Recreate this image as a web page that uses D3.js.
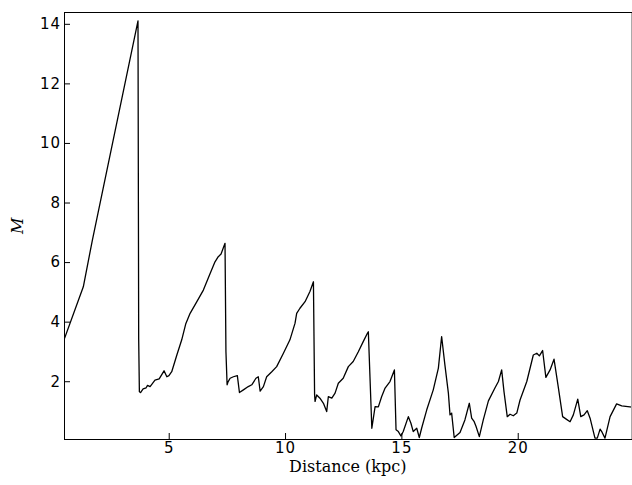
<!DOCTYPE html>
<html>
<head>
<meta charset="utf-8">
<script src="https://cdn.jsdelivr.net/npm/d3@7"></script>
<style>
  html, body { margin: 0; padding: 0; background: #fff; }
  svg { display: block; }
  .tick-label { font-family: "DejaVu Sans", sans-serif; font-size: 15px; letter-spacing: 1px; fill: #000; }
  .axis-title { font-family: "DejaVu Serif", serif; font-size: 16px; fill: #000; }
</style>
</head>
<body>
<svg id="chart" width="632" height="485"></svg>
<script>
// Distance along the line of sight (kpc)
const distance = [
  0.50, 1.33, 1.72, 3.68, 3.71, 3.74, 3.79, 3.90, 4.03, 4.09, 4.20, 4.41, 4.59, 4.80, 4.92,
  5.01, 5.13, 5.35, 5.56, 5.73, 5.92, 6.21, 6.49, 6.78, 6.99, 7.13, 7.25, 7.42, 7.46, 7.51,
  7.55, 7.64, 7.78, 7.95, 8.04, 8.21, 8.42, 8.57, 8.75, 8.85, 8.93, 9.07, 9.21, 9.43, 9.64,
  9.93, 10.21, 10.43, 10.50, 10.64, 10.86, 11.07, 11.22, 11.27, 11.29, 11.36, 11.50, 11.65, 11.79, 11.86,
  12.01, 12.15, 12.29, 12.50, 12.72, 12.93, 13.15, 13.36, 13.54, 13.58, 13.73, 13.87, 14.01, 14.15, 14.30,
  14.51, 14.70, 14.77, 14.87, 14.98, 15.08, 15.30, 15.41, 15.51, 15.66, 15.77, 15.87, 16.09, 16.37, 16.59,
  16.73, 16.87, 17.02, 17.09, 17.16, 17.27, 17.52, 17.73, 17.92, 18.02, 18.13, 18.21, 18.35, 18.52, 18.74,
  19.02, 19.17, 19.31, 19.41, 19.55, 19.67, 19.81, 19.96, 20.10, 20.39, 20.67, 20.82, 20.93, 21.07, 21.21,
  21.39, 21.56, 21.74, 21.93, 22.10, 22.25, 22.39, 22.58, 22.71, 22.85, 22.99, 23.11, 23.32, 23.42, 23.54,
  23.63, 23.75, 23.97, 24.25, 24.47, 24.91
];

// M at each distance
const mValues = [
  3.39, 5.17, 6.74, 14.10, 3.42, 1.65, 1.62, 1.74, 1.78, 1.86, 1.82, 2.04, 2.08, 2.35, 2.15,
  2.19, 2.32, 2.88, 3.39, 3.92, 4.28, 4.67, 5.06, 5.62, 6.01, 6.18, 6.27, 6.63, 2.99, 1.88,
  1.98, 2.10, 2.15, 2.19, 1.62, 1.71, 1.82, 1.88, 2.10, 2.15, 1.67, 1.82, 2.15, 2.32, 2.49,
  2.94, 3.39, 3.95, 4.28, 4.45, 4.67, 5.01, 5.34, 1.54, 1.32, 1.54, 1.43, 1.26, 0.98, 1.48,
  1.43, 1.60, 1.93, 2.10, 2.49, 2.66, 2.99, 3.33, 3.61, 3.66, 0.42, 1.15, 1.14, 1.48, 1.77,
  1.99, 2.38, 0.37, 0.31, 0.16, 0.31, 0.81, 0.59, 0.31, 0.42, 0.11, 0.42, 1.04, 1.71, 2.44,
  3.50, 2.55, 1.60, 0.87, 0.93, 0.11, 0.28, 0.70, 1.26, 0.76, 0.64, 0.48, 0.14, 0.70, 1.34,
  1.77, 1.99, 2.38, 1.65, 0.81, 0.89, 0.84, 0.93, 1.37, 1.99, 2.88, 2.94, 2.85, 3.03, 2.13,
  2.38, 2.74, 1.82, 0.81, 0.72, 0.64, 0.87, 1.40, 0.81, 0.87, 1.01, 0.76, 0.09, 0.09, 0.39,
  0.28, 0.09, 0.81, 1.24, 1.17, 1.13
];

const xTicks = [5, 10, 15, 20];
const yTicks = [2, 4, 6, 8, 10, 12, 14];

const xDomain = [0.50, 24.89];
const yDomain = [0.06, 14.38];

const svg = d3.select("#chart");
const plot = { left: 64, right: 631.5, top: 12.5, bottom: 439 };

const x = d3.scaleLinear().domain(xDomain).range([plot.left, plot.right]);
const y = d3.scaleLinear().domain(yDomain).range([plot.bottom, plot.top]);

const points = distance.map((d, i) => [d, mValues[i]]);

svg.append("clipPath").attr("id", "plot-clip")
  .append("rect")
  .attr("x", plot.left).attr("y", plot.top)
  .attr("width", plot.right - plot.left).attr("height", plot.bottom - plot.top);

// The M curve
const line = d3.line().x(d => x(d[0])).y(d => y(d[1]));
svg.append("path")
  .datum(points)
  .attr("clip-path", "url(#plot-clip)")
  .attr("d", line)
  .attr("fill", "none")
  .attr("stroke", "#000")
  .attr("stroke-width", 1.3)
  .attr("stroke-linejoin", "round");

// Bottom axis: ticks point into the plot
const xAxis = d3.axisBottom(x).tickValues(xTicks).tickSize(-6).tickPadding(3.5)
  .tickFormat(d3.format("d"));
const gx = svg.append("g").attr("transform", `translate(0,${plot.bottom})`).call(xAxis);
gx.select(".domain").remove();
gx.selectAll("line").attr("stroke", "#000");
gx.selectAll("text").attr("class", "tick-label").attr("font-family", null).attr("font-size", null);

// Left axis
const yAxis = d3.axisLeft(y).tickValues(yTicks).tickSize(-6).tickPadding(3)
  .tickFormat(d3.format("d"));
const gy = svg.append("g").attr("transform", `translate(${plot.left},0)`).call(yAxis);
gy.select(".domain").remove();
gy.selectAll("line").attr("stroke", "#000");
gy.selectAll("text").attr("class", "tick-label").attr("font-family", null).attr("font-size", null);

// Frame
const frame = svg.append("g").attr("fill", "none").attr("shape-rendering", "crispEdges");
frame.append("line").attr("x1", plot.left).attr("x2", plot.right).attr("y1", plot.top).attr("y2", plot.top).attr("stroke", "#000");
frame.append("line").attr("x1", plot.left).attr("x2", plot.right).attr("y1", plot.bottom).attr("y2", plot.bottom).attr("stroke", "#000");
frame.append("line").attr("x1", plot.left).attr("x2", plot.left).attr("y1", plot.top).attr("y2", plot.bottom).attr("stroke", "#000");
frame.append("line").attr("x1", plot.right).attr("x2", plot.right).attr("y1", plot.top).attr("y2", plot.bottom).attr("stroke", "#aaa");

// Axis titles
svg.append("text")
  .attr("class", "axis-title")
  .attr("x", (plot.left + plot.right) / 2)
  .attr("y", 472)
  .attr("text-anchor", "middle")
  .text("Distance (kpc)");

svg.append("text")
  .attr("class", "axis-title")
  .attr("transform", `translate(23,${(plot.top + plot.bottom) / 2}) rotate(-90)`)
  .attr("text-anchor", "middle")
  .attr("font-style", "italic")
  .text("M");
</script>
</body>
</html>
